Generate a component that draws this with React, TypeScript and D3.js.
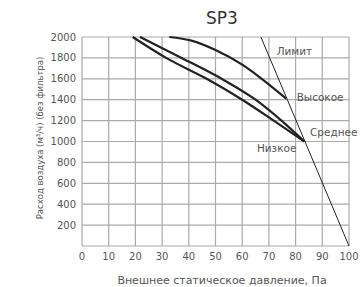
import * as d3 from "d3";

const title = "SP3";
const xTicks = [0, 10, 20, 30, 40, 50, 60, 70, 80, 90, 100];
const yTicks = [200, 400, 600, 800, 1000, 1200, 1400, 1600, 1800, 2000];

// pressure (Pa), flow (m3/h)
const lowCurve: [number, number][] = [[19, 2000], [31.5, 1800], [46.7, 1600], [60, 1400], [71.8, 1200], [83.3, 1000]];
const midCurve: [number, number][] = [[21.7, 2000], [37.3, 1800], [52.3, 1600], [65, 1400], [74.7, 1200], [83.3, 1000]];
const highCurve: [number, number][] = [[32.7, 2000], [41, 1965], [50, 1875], [60, 1735], [66.7, 1612], [76.5, 1410]];
const limitLine: [number, number][] = [[67, 2000], [100, 0]];

const labels = [
  { text: "Лимит", x: 72.9, y: 1830 },
  { text: "Высокое", x: 80.4, y: 1390 },
  { text: "Среднее", x: 85.4, y: 1055 },
  { text: "Низкое", x: 65.5, y: 900 },
];

export default function App() {
  const width = 362;
  const height = 287;
  const margin = { top: 37, right: 13, bottom: 41, left: 82 };

  const x = d3.scaleLinear().domain([0, 100]).range([margin.left, width - margin.right]);
  const y = d3.scaleLinear().domain([0, 2000]).range([height - margin.bottom, margin.top]);

  const line = d3.line<[number, number]>()
    .x(d => x(d[0]))
    .y(d => y(d[1]))
    .curve(d3.curveMonotoneX);

  const font = "'DejaVu Sans', sans-serif";
  const txt = "#555";

  return (
    <svg width={width} height={height} style={{ position: "absolute", left: 0, top: 0 }}>
      <text x={222} y={24} textAnchor="middle" fontSize={17} fill="#333" fontFamily={font}>{title}</text>

      {/* grid */}
      {xTicks.map(t => (
        <line key={"gx" + t} x1={x(t)} x2={x(t)} y1={y(0)} y2={y(2000)} stroke="#aaa" strokeWidth={1.2} />
      ))}
      {[0, ...yTicks].map(t => (
        <line key={"gy" + t} x1={x(0)} x2={x(100)} y1={y(t)} y2={y(t)} stroke="#aaa" strokeWidth={1.2} />
      ))}

      {/* tick labels */}
      {xTicks.map(t => (
        <text key={"tx" + t} x={x(t)} y={260} textAnchor="middle" fontSize={10} fill={txt} fontFamily={font}>{t}</text>
      ))}
      {yTicks.map(t => (
        <text key={"ty" + t} x={76} y={y(t) + 3.5} textAnchor="end" fontSize={10} fill={txt} fontFamily={font}>{t}</text>
      ))}

      <text x={222} y={284} textAnchor="middle" fontSize={11} fill={txt} fontFamily={font}>
        Внешнее статическое давление, Па
      </text>
      <text transform={`translate(43,${138}) rotate(-90)`} textAnchor="middle" fontSize={8.5} fill={txt} fontFamily={font}>
        Расход воздуха (м³/ч) (без фильтра)
      </text>

      {/* curves */}
      {[lowCurve, midCurve, highCurve].map((c, i) => (
        <path key={"c" + i} d={line(c) || ""} fill="none" stroke="#222" strokeWidth={2.2} />
      ))}
      <path d={d3.line<[number, number]>().x(d => x(d[0])).y(d => y(d[1]))(limitLine) || ""} fill="none" stroke="#222" strokeWidth={1} />

      {labels.map(l => (
        <text key={l.text} x={x(l.x)} y={y(l.y)} fontSize={10.5} fill={txt} fontFamily={font}>{l.text}</text>
      ))}
    </svg>
  );
}
